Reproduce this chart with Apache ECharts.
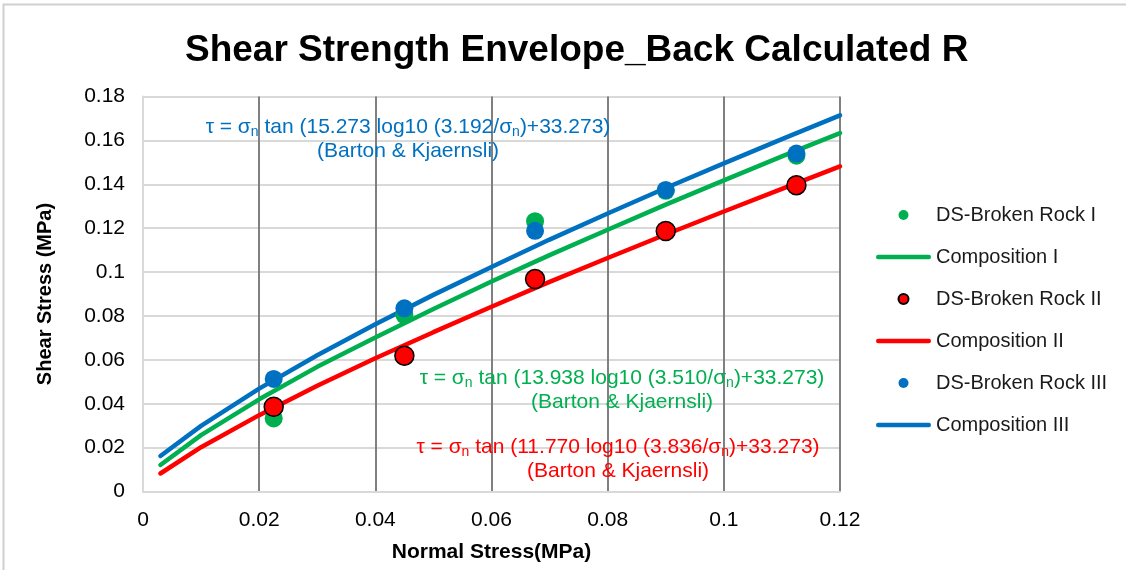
<!DOCTYPE html>
<html>
<head>
<meta charset="utf-8">
<script src="https://cdn.jsdelivr.net/npm/echarts@6/dist/echarts.min.js"></script>
<style>
html,body{margin:0;padding:0;background:#fff;}
#chart{width:1126px;height:570px;}
</style>
</head>
<body>
<div id="chart"></div>
<script>
// Measured normal stress of direct shear tests (MPa)
const testStress = [0.0225, 0.045, 0.0675, 0.09, 0.1125];
const dsRockI   = [0.0333, 0.0804, 0.1232, 0.1370, 0.1530];
const dsRockII  = [0.0386, 0.0619, 0.0968, 0.1187, 0.1396];
const dsRockIII = [0.0513, 0.0835, 0.1188, 0.1374, 0.1540];

// Envelope curves
const curveStress = [0.003, 0.01, 0.02, 0.03, 0.04, 0.05, 0.06, 0.07, 0.08, 0.09, 0.10, 0.11, 0.12];
const compI   = [0.0121, 0.0257, 0.0420, 0.0568, 0.0702, 0.0832, 0.0957, 0.1077, 0.1193, 0.1307, 0.1418, 0.1527, 0.1633];
const compII  = [0.0082, 0.0202, 0.0348, 0.0482, 0.0607, 0.0726, 0.0842, 0.0955, 0.1064, 0.1171, 0.1276, 0.1379, 0.1482];
const compIII = [0.0162, 0.0299, 0.0469, 0.0621, 0.0762, 0.0896, 0.1023, 0.1148, 0.1267, 0.1383, 0.1495, 0.1606, 0.1714];

const seriesNames = ['DS-Broken Rock I', 'Composition I', 'DS-Broken Rock II', 'Composition II', 'DS-Broken Rock III', 'Composition III'];
const GREEN = '#00B050', RED = '#FF0000', BLUE = '#0070C0';
const FONT = 'Arial, "Liberation Sans", sans-serif';

function pairs(xs, ys) { return xs.map((x, i) => [x, ys[i]]); }

function eqText(color, jrc, jcs) {
  return {
    text: '{a|τ = σ}{s|n}{a| tan (' + jrc + ' log10 (' + jcs + '/σ}{s|n}{a|)+33.273)}\n{a|(Barton & Kjaernsli)}',
    rich: {
      a: { fontSize: 21, fontFamily: FONT, fill: color, lineHeight: 24 },
      s: { fontSize: 14, fontFamily: FONT, fill: color, lineHeight: 18, verticalAlign: 'bottom' }
    },
    align: 'center', verticalAlign: 'middle', fill: color
  };
}

const LINE_ICON = 'path://M2.25,0 L52.75,0 A2.25,2.25 0 0 1 52.75,4.5 L2.25,4.5 A2.25,2.25 0 0 1 2.25,0 Z';
const legendData = seriesNames.map((n, i) => i % 2 === 1 ? { name: n, icon: LINE_ICON } : { name: n });

const chart = echarts.init(document.getElementById('chart'));
const option = {
  backgroundColor: '#fff',
  animation: false,
  title: {
    text: 'Shear Strength Envelope_Back Calculated R',
    left: 180, top: 27,
    textStyle: { fontSize: 37, fontWeight: 'bold', fontFamily: FONT, color: '#000' }
  },
  grid: { left: 143, right: 286, top: 96.5, bottom: 78.5, containLabel: false },
  legend: {
    orient: 'vertical', left: 876, top: 205, padding: 0,
    itemWidth: 55, itemHeight: 10, itemGap: 22,
    textStyle: { fontSize: 20, fontFamily: FONT, color: '#1a1a1a', lineHeight: 20 },
    data: legendData
  },
  xAxis: {
    type: 'value', min: 0, max: 0.12, interval: 0.02,
    name: 'Normal Stress(MPa)', nameLocation: 'middle', nameGap: 50,
    nameTextStyle: { fontSize: 21, fontWeight: 'bold', fontFamily: FONT, color: '#000' },
    axisLine: { show: true, lineStyle: { color: '#d9d9d9', width: 2 } },
    axisTick: { show: false },
    axisLabel: { fontSize: 21, fontFamily: FONT, color: '#000', margin: 18 },
    splitLine: { show: true, showMinLine: false, lineStyle: { color: '#808080', width: 2 } }
  },
  yAxis: {
    type: 'value', min: 0, max: 0.18, interval: 0.02,
    name: 'Shear Stress (MPa)', nameLocation: 'middle', nameGap: 88, nameRotate: 90,
    nameTextStyle: { fontSize: 20, fontWeight: 'bold', fontFamily: FONT, color: '#000' },
    axisLine: { show: true, lineStyle: { color: '#d9d9d9', width: 2 } },
    axisTick: { show: false },
    axisLabel: { fontSize: 21, fontFamily: FONT, color: '#000', margin: 18 },
    splitLine: { show: true, lineStyle: { color: '#d9d9d9', width: 2 } }
  },
  series: [
    { name: seriesNames[0], type: 'scatter', data: pairs(testStress, dsRockI), symbolSize: 18, z: 5,
      itemStyle: { color: GREEN, opacity: 1 } },
    { name: seriesNames[1], type: 'line', data: pairs(curveStress, compI), symbol: 'none', z: 3,
      lineStyle: { color: GREEN, width: 4.5, cap: 'round' }, itemStyle: { color: GREEN } },
    { name: seriesNames[2], type: 'scatter', data: pairs(testStress, dsRockII), symbolSize: 19, z: 5,
      itemStyle: { color: RED, borderColor: '#000', borderWidth: 1.5, opacity: 1 } },
    { name: seriesNames[3], type: 'line', data: pairs(curveStress, compII), symbol: 'none', z: 3,
      lineStyle: { color: RED, width: 4.5, cap: 'round' }, itemStyle: { color: RED } },
    { name: seriesNames[4], type: 'scatter', data: pairs(testStress, dsRockIII), symbolSize: 18, z: 6,
      itemStyle: { color: BLUE, opacity: 1 } },
    { name: seriesNames[5], type: 'line', data: pairs(curveStress, compIII), symbol: 'none', z: 3,
      lineStyle: { color: BLUE, width: 4.5, cap: 'round' }, itemStyle: { color: BLUE } }
  ],
  graphic: [
    { type: 'rect', silent: true, z: -10, shape: { x: 3.5, y: 4.5, width: 1200, height: 1200 },
      style: { fill: 'none', stroke: '#d0d0d0', lineWidth: 2 } },
    { type: 'text', z: 10, x: 408, y: 139, style: eqText(BLUE, '15.273', '3.192') },
    { type: 'text', z: 10, x: 622, y: 390, style: eqText(GREEN, '13.938', '3.510') },
    { type: 'text', z: 10, x: 618, y: 459, style: eqText(RED, '11.770', '3.836') }
  ]
};
chart.setOption(option);
</script>
</body>
</html>
